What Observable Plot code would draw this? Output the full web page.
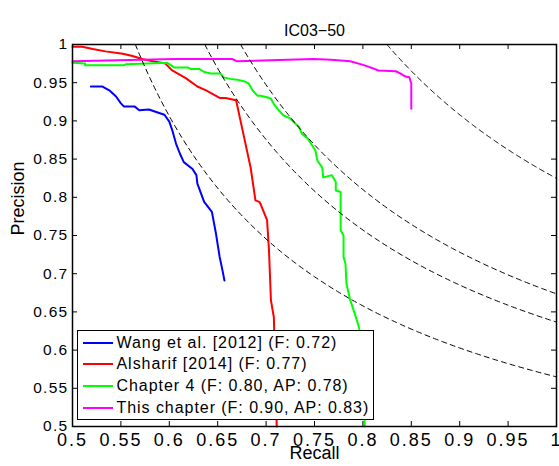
<!DOCTYPE html>
<html><head><meta charset="utf-8">
<script src="https://cdn.jsdelivr.net/npm/d3@7"></script>
<script src="https://cdn.jsdelivr.net/npm/@observablehq/plot@0.6"></script>
<style>
html,body{margin:0;padding:0;background:#fff;}
#wrap{position:relative;width:559px;height:466px;overflow:hidden;font-family:"Liberation Sans",Arial,sans-serif;}
#wrap svg{display:block;}
g[aria-label="x-axis tick label"] text{letter-spacing:2px;}
g[aria-label="y-axis tick label"] text{letter-spacing:1.3px;}
.legend{position:absolute;left:77px;top:330px;width:297px;height:90px;box-sizing:border-box;border:1.5px solid #000;background:#fff;}
.legend .row{position:absolute;left:0;height:20px;display:flex;align-items:center;font-size:16px;letter-spacing:0.95px;color:#000;white-space:nowrap;}
.legend .row svg{margin-left:4.5px;margin-right:4px;}
</style></head><body><div id="wrap"></div>
<script>
// ---- data ----
const title = "IC03\u221250";
const xLabel = "Recall";
const yLabel = "Precision";
const xTicks = [0.5,0.55,0.6,0.65,0.7,0.75,0.8,0.85,0.9,0.95,1];
const xTickLabels = ["0.5","0.55","0.6","0.65","0.7","0.75","0.8","0.85","0.9","0.95","1"];
const yTicks = [0.5,0.55,0.6,0.65,0.7,0.75,0.8,0.85,0.9,0.95,1];
const yTickLabels = ["0.5","0.55","0.6","0.65","0.7","0.75","0.8","0.85","0.9","0.95","1"];

const seriesNames = ["Wang et al. [2012] (F: 0.72)","Alsharif [2014] (F: 0.77)","Chapter 4 (F: 0.80, AP: 0.78)","This chapter (F: 0.90, AP: 0.83)"];
const seriesColors = ["#0000ff","#ff0000","#00ff00","#ff00ff"];

const wangR = [0.519,0.531,0.538,0.545,0.550,0.553,0.564,0.569,0.579,0.588,0.595,0.600,0.603,0.607,0.611,0.615,0.624,0.628,0.629,0.636,0.644,0.648,0.652,0.655,0.657];
const wangP = [0.945,0.945,0.940,0.932,0.923,0.919,0.919,0.914,0.915,0.911,0.908,0.899,0.888,0.870,0.857,0.846,0.837,0.829,0.818,0.794,0.781,0.754,0.722,0.704,0.691];

const alsharifR = [0.500,0.510,0.521,0.534,0.552,0.562,0.572,0.583,0.596,0.603,0.617,0.629,0.638,0.652,0.658,0.669,0.676,0.684,0.689,0.693,0.694,0.701,0.703,0.705,0.708,0.711];
const alsharifP = [0.997,0.997,0.994,0.991,0.988,0.985,0.981,0.978,0.975,0.966,0.956,0.945,0.940,0.930,0.930,0.927,0.886,0.839,0.796,0.794,0.792,0.770,0.730,0.665,0.643,0.500];

const ch4R = [0.500,0.513,0.513,0.553,0.555,0.598,0.605,0.619,0.622,0.631,0.636,0.643,0.653,0.656,0.663,0.670,0.677,0.682,0.686,0.691,0.694,0.701,0.705,0.708,0.713,0.718,0.724,0.729,0.734,0.737,0.743,0.751,0.753,0.758,0.759,0.768,0.772,0.772,0.777,0.777,0.780,0.780,0.782,0.783,0.787,0.791,0.795,0.798,0.800,0.802];
const ch4P = [0.976,0.975,0.973,0.973,0.974,0.976,0.970,0.970,0.968,0.968,0.964,0.962,0.962,0.957,0.955,0.954,0.952,0.949,0.940,0.933,0.933,0.931,0.929,0.922,0.914,0.907,0.904,0.898,0.892,0.883,0.877,0.861,0.848,0.839,0.826,0.829,0.820,0.809,0.807,0.757,0.750,0.722,0.713,0.687,0.665,0.650,0.634,0.619,0.560,0.500];

const thisR = [0.500,0.606,0.665,0.670,0.749,0.767,0.787,0.801,0.810,0.816,0.834,0.839,0.844,0.848,0.850,0.850];
const thisP = [0.978,0.981,0.981,0.978,0.981,0.980,0.978,0.973,0.969,0.966,0.965,0.962,0.958,0.957,0.949,0.916];

// iso F-measure reference curves (dashed)
const isoF = [0.722, 0.778, 0.805, 0.904];

// ---- build tables ----
const seriesR = [wangR, alsharifR, ch4R, thisR];
const seriesP = [wangP, alsharifP, ch4P, thisP];
const curves = [];
seriesR.forEach((rs, s) => rs.forEach((r, i) => curves.push({series: seriesNames[s], r, p: seriesP[s][i]})));

const iso = [];
isoF.forEach(f => {
  const r0 = f / (2 - f);
  const n = 200;
  for (let i = 0; i <= n; i++) {
    const r = r0 + (1 - r0) * i / n;
    iso.push({f, r, p: f * r / (2 * r - f)});
  }
});

const W = 559, H = 466, mL = 72, mR = 3, mT = 44, mB = 40;
const plotW = W - mL - mR, plotH = H - mT - mB;
const tick = 5;

const chart = Plot.plot({
  width: W, height: H,
  marginLeft: mL, marginRight: mR, marginTop: mT, marginBottom: mB,
  style: {fontFamily: '"Liberation Sans", Arial, sans-serif', color: "#000", background: "#fff", overflow: "visible"},
  x: {domain: [0.5, 1]},
  y: {domain: [0.5, 1]},
  color: {domain: seriesNames, range: seriesColors},
  marks: [
    Plot.line(curves, {x: "r", y: "p", z: "series", stroke: "series", strokeWidth: 2, strokeLinejoin: "round"}),
    Plot.line(iso, {x: "r", y: "p", z: "f", stroke: "#000", strokeWidth: 1, strokeDasharray: "5,4"}),
    // inward ticks on all four sides
    Plot.tickX(xTicks, {x: d => d, insetTop: plotH - tick, stroke: "#000", strokeWidth: 1}),
    Plot.tickX(xTicks, {x: d => d, insetBottom: plotH - tick, stroke: "#000", strokeWidth: 1}),
    Plot.tickY(yTicks, {y: d => d, insetRight: plotW - tick, stroke: "#000", strokeWidth: 1}),
    Plot.tickY(yTicks, {y: d => d, insetLeft: plotW - tick, stroke: "#000", strokeWidth: 1}),
    Plot.axisX({anchor: "bottom", ticks: xTicks, tickSize: 0, tickPadding: 7, fontSize: 18, label: null, tickFormat: (d, i) => xTickLabels[i]}),
    Plot.axisY({anchor: "left", ticks: yTicks, tickSize: 0, tickPadding: 4, fontSize: 15.5, label: null, tickFormat: (d, i) => yTickLabels[i]}),
    Plot.frame({stroke: "#000", strokeWidth: 1.5}),
    Plot.text([title], {frameAnchor: "top", dy: -20, fontSize: 16, text: d => d, fill: "#000"}),
    Plot.text([xLabel], {frameAnchor: "bottom", dy: 32, fontSize: 18, text: d => d, fill: "#000"}),
    Plot.text([yLabel], {frameAnchor: "left", dx: -54, rotate: -90, fontSize: 18, text: d => d, fill: "#000"})
  ]
});

const wrap = document.getElementById("wrap");
wrap.appendChild(chart);

// legend (opaque box drawn over the plot, as in the reference)
const legend = document.createElement("div");
legend.className = "legend";
const rowCenters = [13, 34.7, 56.4, 78];
seriesNames.forEach((name, i) => {
  const row = document.createElement("div");
  row.className = "row";
  row.style.top = (rowCenters[i] - 1.5 - 10) + "px";
  row.innerHTML = `<svg width="30" height="4"><line x1="0" x2="30" y1="2" y2="2" stroke="${seriesColors[i]}" stroke-width="2"/></svg><span>${name}</span>`;
  legend.appendChild(row);
});
wrap.appendChild(legend);
</script></body></html>
